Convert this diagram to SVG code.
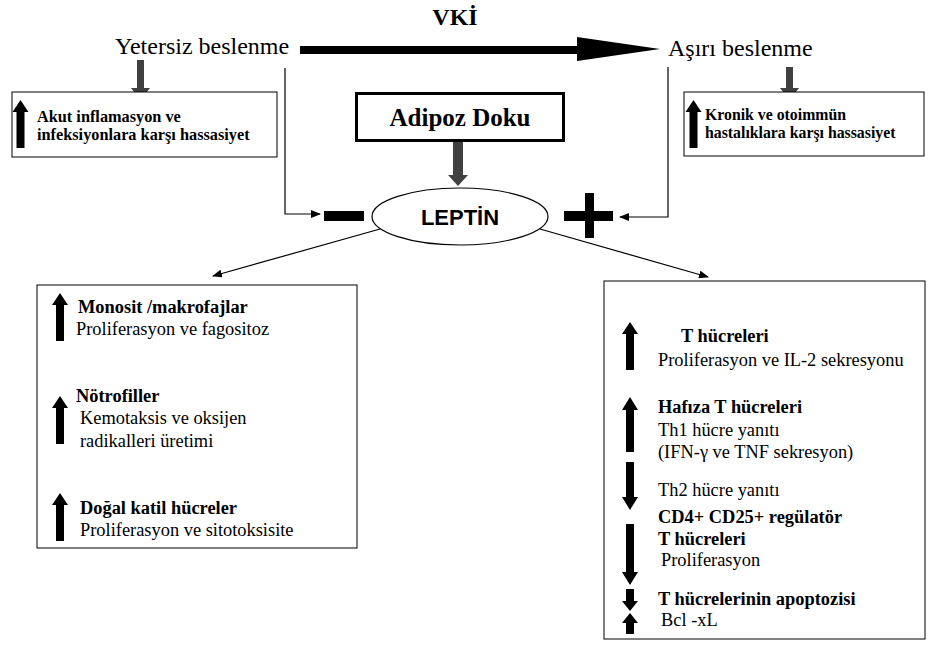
<svg xmlns="http://www.w3.org/2000/svg" width="928" height="655" viewBox="0 0 928 655">
<defs>
<style>
.serif{font-family:"Liberation Serif","Times New Roman",serif;fill:#000}
.big{font-size:24px}
.b{font-weight:bold}
.s16{font-size:16.3px}
.s18{font-size:18.4px}
.box{fill:#fff;stroke:#000;stroke-width:1}
.line{fill:none;stroke:#000;stroke-width:1.2}
.ga{fill:#404040}
.ba{fill:#000}
</style>
<marker id="ah" markerWidth="10" markerHeight="8" refX="9" refY="4" orient="auto" markerUnits="userSpaceOnUse">
<path d="M0,0 L10,4 L0,8 Z" fill="#000"/>
</marker>
<path id="up" d="M-4,48 L-4,12 L-8,12 L0,0 L8,12 L4,12 L4,48 Z"/>
</defs>
<rect width="928" height="655" fill="#fff"/>

<g id="connectors">
<path class="line" d="M285,68 L285,214 L320,214" marker-end="url(#ah)"/>
<path class="line" d="M668,67 L668,217 L620,217" marker-end="url(#ah)"/>
<path class="line" d="M380,229 L213,276" marker-end="url(#ah)"/>
<path class="line" d="M540,229 L708,277" marker-end="url(#ah)"/>
<rect x="300" y="46" width="278" height="8" fill="#000"/>
<polygon points="577,37 660,49 577,61" fill="#000"/>
<polygon class="ga" points="137,60 144,60 144,88 150,88 140.5,100 131,88 137,88"/>
<polygon class="ga" points="453,142 463,142 463,175 468,175 458,186 448,175 453,175"/>
<polygon class="ga" points="786,67 793,67 793,88 799,88 789.5,100 780,88 786,88"/>
</g>

<g id="vki"><text class="serif b" x="455" y="25" font-size="24" text-anchor="middle">VKİ</text></g>
<g id="yetersiz"><text class="serif big" x="115" y="54">Yetersiz beslenme</text></g>
<g id="asiri"><text class="serif big" x="668" y="56">Aşırı beslenme</text></g>

<g id="akut">
<rect class="box" x="12" y="92" width="265" height="65"/>
<use href="#up" x="20.5" y="100" class="ba"/>
<text class="serif b s16" x="37" y="122">Akut inflamasyon ve</text>
<text class="serif b s16" x="37" y="140">infeksiyonlara karşı hassasiyet</text>
</g>

<g id="kronik">
<rect class="box" x="684" y="92" width="240" height="64"/>
<use href="#up" x="693.5" y="100" class="ba"/>
<text class="serif b" font-size="15.8" x="705" y="120">Kronik ve otoimmün</text>
<text class="serif b" font-size="15.8" x="705" y="138">hastalıklara karşı hassasiyet</text>
</g>

<g id="adipoz">
<rect x="356.5" y="93.5" width="207" height="47" fill="#fff" stroke="#000" stroke-width="3"/>
<text class="serif b" x="460" y="126" font-size="25" text-anchor="middle">Adipoz Doku</text>
</g>

<g id="leptin">
<ellipse cx="460" cy="216.5" rx="88" ry="28.5" fill="#fff" stroke="#000" stroke-width="1.2"/>
<text x="460" y="225" font-family="Liberation Sans, Arial, sans-serif" font-weight="bold" font-size="22" text-anchor="middle">LEPTİN</text>
</g>

<g id="minus"><rect x="324" y="211" width="40" height="10" fill="#000"/></g>
<g id="plus">
<rect x="564" y="211" width="49" height="10" fill="#000"/>
<rect x="585" y="193" width="9" height="45" fill="#000"/>
</g>

<g id="left-box">
<rect class="box" x="37" y="285" width="320" height="263"/>
<use href="#up" x="60" y="293" class="ba"/>
<text class="serif b s18" x="78" y="313">Monosit /makrofajlar</text>
<text class="serif s18" x="76" y="335">Proliferasyon ve fagositoz</text>
<use href="#up" x="60" y="396" class="ba"/>
<text class="serif b s18" x="76" y="402">Nötrofiller</text>
<text class="serif s18" x="80" y="424">Kemotaksis ve oksijen</text>
<text class="serif s18" x="80" y="447">radikalleri üretimi</text>
<use href="#up" x="60" y="493" class="ba"/>
<text class="serif b s18" x="80" y="514">Doğal katil hücreler</text>
<text class="serif s18" x="80" y="536">Proliferasyon ve sitotoksisite</text>
</g>

<g id="right-box">
<rect class="box" x="604" y="281" width="321" height="358"/>
<path class="ba" d="M626,370 L626,334 L622,334 L630,322 L638,334 L634,334 L634,370 Z"/>
<text class="serif b s18" x="681" y="342">T hücreleri</text>
<text class="serif s18" x="658" y="366">Proliferasyon ve IL-2 sekresyonu</text>
<path class="ba" d="M626,452 L626,410 L622,410 L630,397 L638,410 L634,410 L634,452 Z"/>
<text class="serif b s18" x="658" y="413">Hafıza T hücreleri</text>
<text class="serif s18" x="658" y="436">Th1 hücre yanıtı</text>
<text class="serif s18" x="658" y="458">(IFN-γ ve TNF sekresyon)</text>
<path class="ba" d="M626,462 L634,462 L634,497 L638,497 L630,510 L622,497 L626,497 Z"/>
<text class="serif s18" x="658" y="496">Th2 hücre yanıtı</text>
<path class="ba" d="M626,524 L634,524 L634,572 L638,572 L630,585 L622,572 L626,572 Z"/>
<text class="serif b s18" x="658" y="523">CD4+ CD25+ regülatör</text>
<text class="serif b s18" x="658" y="545">T hücreleri</text>
<text class="serif s18" x="661" y="566">Proliferasyon</text>
<path class="ba" d="M626,589 L634,589 L634,601 L638,601 L630,611 L622,601 L626,601 Z"/>
<path class="ba" d="M626,634 L626,623 L622,623 L630,613 L638,623 L634,623 L634,634 Z"/>
<text class="serif b s18" x="658" y="605">T hücrelerinin apoptozisi</text>
<text class="serif s18" x="661" y="626">Bcl -xL</text>
</g>
</svg>
